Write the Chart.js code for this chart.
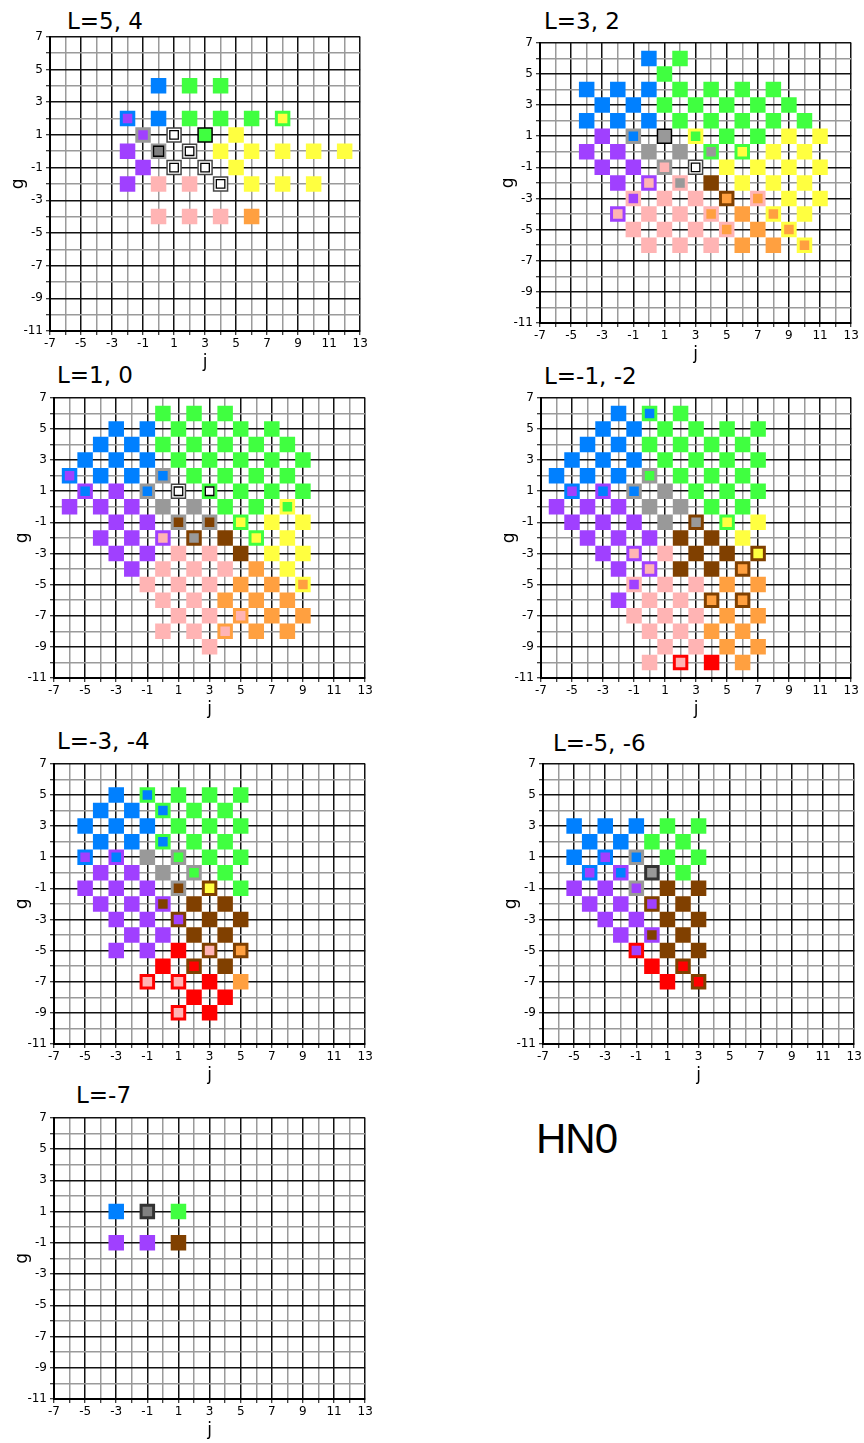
<!DOCTYPE html>
<html><head><meta charset="utf-8">
<script src="https://cdn.jsdelivr.net/npm/chart.js@4.4.1/dist/chart.umd.min.js"></script>
<style>
html,body{margin:0;padding:0;background:#fff;overflow:hidden}
body{width:864px;height:1443px;position:relative}
canvas{position:absolute}
.t{position:absolute;font-family:"DejaVu Sans";font-size:23px;line-height:23px;color:#000;white-space:pre}
.hn{position:absolute;font-family:"Liberation Sans";font-size:42px;line-height:42px;letter-spacing:-1px;color:#000}
</style></head><body>
<div class="t" style="left:67px;top:10px">L=5, 4</div>
<div class="t" style="left:544px;top:10px">L=3, 2</div>
<div class="t" style="left:57px;top:364px">L=1, 0</div>
<div class="t" style="left:544px;top:365px">L=-1, -2</div>
<div class="t" style="left:57px;top:730px">L=-3, -4</div>
<div class="t" style="left:553px;top:732px">L=-5, -6</div>
<div class="t" style="left:76px;top:1084px">L=-7</div>
<div class="hn" style="left:536px;top:1118px">HN0</div>
<canvas id="c1"></canvas><canvas id="c2"></canvas><canvas id="c3"></canvas><canvas id="c4"></canvas>
<canvas id="c5"></canvas><canvas id="c6"></canvas><canvas id="c7"></canvas>
<script>
// Tick labels
const J_LABELS = [-7,-5,-3,-1,1,3,5,7,9,11,13];
const G_LABELS = [-11,-9,-7,-5,-3,-1,1,3,5,7];

// Points: [j, g, fill, border]
const L54 = [
 [0,4,'B'],[2,4,'G'],[4,4,'G'],
 [-2,2,'P','B'],[0,2,'B'],[2,2,'G'],[4,2,'G'],[6,2,'G'],[8,2,'Y','G'],
 [-1,1,'P','A'],[1,1,'W','X'],[3,1,'G','k'],[5,1,'Y'],
 [-2,0,'P'],[0,0,'D','Q'],[2,0,'W','X'],[4,0,'Y'],[6,0,'Y'],[8,0,'Y'],[10,0,'Y'],[12,0,'Y'],
 [-1,-1,'P'],[1,-1,'W','X'],[3,-1,'W','X'],[5,-1,'Y'],
 [-2,-2,'P'],[0,-2,'K'],[2,-2,'K'],[4,-2,'W','X'],[6,-2,'Y'],[8,-2,'Y'],[10,-2,'Y'],
 [0,-4,'K'],[2,-4,'K'],[4,-4,'K'],[6,-4,'O']
];
const L32 = [
 [0,6,'B'],[2,6,'G'],
 [1,5,'G'],
 [-4,4,'B'],[-2,4,'B'],[0,4,'B'],[2,4,'G'],[4,4,'G'],[6,4,'G'],[8,4,'G'],
 [-3,3,'B'],[-1,3,'B'],[1,3,'G'],[3,3,'G'],[5,3,'G'],[7,3,'G'],[9,3,'G'],
 [-4,2,'B'],[-2,2,'B'],[0,2,'B'],[2,2,'G'],[4,2,'G'],[6,2,'G'],[8,2,'G'],[10,2,'G'],
 [-3,1,'P'],[-1,1,'B','A'],[1,1,'A','k'],[3,1,'G','Y'],[5,1,'G'],[7,1,'G'],[9,1,'Y'],[11,1,'Y'],
 [-4,0,'P'],[-2,0,'P'],[0,0,'A'],[2,0,'A'],[4,0,'A','G'],[6,0,'Y','G'],[8,0,'Y'],[10,0,'Y'],
 [-3,-1,'P'],[-1,-1,'P'],[1,-1,'K','A'],[3,-1,'W','X'],[5,-1,'Y'],[7,-1,'Y'],[9,-1,'Y'],[11,-1,'Y'],
 [-2,-2,'P'],[0,-2,'K','P'],[2,-2,'A','K'],[4,-2,'N'],[6,-2,'Y'],[8,-2,'Y'],[10,-2,'Y'],
 [-1,-3,'P','K'],[1,-3,'K'],[3,-3,'K'],[5,-3,'O','N'],[7,-3,'O','K'],[9,-3,'Y'],[11,-3,'Y'],
 [-2,-4,'K','P'],[0,-4,'K'],[2,-4,'K'],[4,-4,'O','K'],[6,-4,'O'],[8,-4,'O','Y'],[10,-4,'Y'],
 [-1,-5,'K'],[1,-5,'K'],[3,-5,'K'],[5,-5,'O','K'],[7,-5,'O'],[9,-5,'O','Y'],
 [0,-6,'K'],[2,-6,'K'],[4,-6,'K'],[6,-6,'O'],[8,-6,'O'],[10,-6,'O','Y']
];
const L10 = [
 [0,6,'G'],[2,6,'G'],[4,6,'G'],
 [-3,5,'B'],[-1,5,'B'],[1,5,'G'],[3,5,'G'],[5,5,'G'],[7,5,'G'],
 [-4,4,'B'],[-2,4,'B'],[0,4,'G'],[2,4,'G'],[4,4,'G'],[6,4,'G'],[8,4,'G'],
 [-5,3,'B'],[-3,3,'B'],[-1,3,'B'],[1,3,'G'],[3,3,'G'],[5,3,'G'],[7,3,'G'],[9,3,'G'],
 [-6,2,'P','B'],[-4,2,'B'],[-2,2,'B'],[0,2,'B','A'],[2,2,'G'],[4,2,'G'],[6,2,'G'],[8,2,'G'],
 [-5,1,'B','P'],[-3,1,'P'],[-1,1,'B','A'],[1,1,'W','X'],[3,1,'W','G'],[5,1,'G'],[7,1,'G'],[9,1,'G'],
 [-6,0,'P'],[-4,0,'P'],[-2,0,'P'],[0,0,'A'],[2,0,'A'],[4,0,'G'],[6,0,'G'],[8,0,'G','Y'],
 [-3,-1,'P'],[-1,-1,'P'],[1,-1,'N','A'],[3,-1,'N','A'],[5,-1,'Y','G'],[7,-1,'Y'],[9,-1,'Y'],
 [-4,-2,'P'],[-2,-2,'P'],[0,-2,'K','P'],[2,-2,'A','N'],[4,-2,'N'],[6,-2,'Y','G'],[8,-2,'Y'],
 [-3,-3,'P'],[-1,-3,'P'],[1,-3,'K'],[3,-3,'K'],[5,-3,'N'],[7,-3,'Y'],[9,-3,'Y'],
 [-2,-4,'P'],[0,-4,'K'],[2,-4,'K'],[4,-4,'K'],[6,-4,'O'],[8,-4,'Y'],
 [-1,-5,'K'],[1,-5,'K'],[3,-5,'K'],[5,-5,'O'],[7,-5,'O'],[9,-5,'O','Y'],
 [0,-6,'K'],[2,-6,'K'],[4,-6,'O'],[6,-6,'O'],[8,-6,'O'],
 [1,-7,'K'],[3,-7,'K'],[5,-7,'K','O'],[7,-7,'O'],[9,-7,'O'],
 [0,-8,'K'],[2,-8,'K'],[4,-8,'K','O'],[6,-8,'O'],[8,-8,'O'],
 [3,-9,'K']
];
const Lm12 = [
 [-2,6,'B'],[0,6,'B','G'],[2,6,'G'],
 [-3,5,'B'],[-1,5,'B'],[1,5,'G'],[3,5,'G'],[5,5,'G'],[7,5,'G'],
 [-4,4,'B'],[-2,4,'B'],[0,4,'G'],[2,4,'G'],[4,4,'G'],[6,4,'G'],
 [-5,3,'B'],[-3,3,'B'],[-1,3,'B'],[1,3,'G'],[3,3,'G'],[5,3,'G'],[7,3,'G'],
 [-6,2,'B'],[-4,2,'B'],[-2,2,'B'],[0,2,'G','A'],[2,2,'G'],[4,2,'G'],[6,2,'G'],
 [-5,1,'P','B'],[-3,1,'B','P'],[-1,1,'B','A'],[1,1,'A'],[3,1,'G'],[5,1,'G'],[7,1,'G'],
 [-6,0,'P'],[-4,0,'P'],[-2,0,'P'],[0,0,'A'],[2,0,'A'],[4,0,'G'],[6,0,'G'],
 [-5,-1,'P'],[-3,-1,'P'],[-1,-1,'P'],[1,-1,'A'],[3,-1,'A','N'],[5,-1,'Y','G'],[7,-1,'Y'],
 [-4,-2,'P'],[-2,-2,'P'],[0,-2,'P'],[2,-2,'N'],[4,-2,'N'],[6,-2,'Y'],
 [-3,-3,'P'],[-1,-3,'K','P'],[1,-3,'K'],[3,-3,'N'],[5,-3,'N'],[7,-3,'Y','N'],
 [-2,-4,'P'],[0,-4,'K','P'],[2,-4,'N'],[4,-4,'N'],[6,-4,'O','N'],
 [-1,-5,'P','K'],[1,-5,'K'],[3,-5,'K'],[5,-5,'O'],[7,-5,'O'],
 [-2,-6,'P'],[0,-6,'K'],[2,-6,'K'],[4,-6,'O','N'],[6,-6,'O','N'],
 [-1,-7,'K'],[1,-7,'K'],[3,-7,'K'],[5,-7,'O'],[7,-7,'O'],
 [0,-8,'K'],[2,-8,'K'],[4,-8,'O'],[6,-8,'O'],
 [1,-9,'K'],[3,-9,'K'],[5,-9,'O'],[7,-9,'O'],
 [0,-10,'K'],[2,-10,'K','R'],[4,-10,'R'],[6,-10,'O']
];
const Lm34 = [
 [-3,5,'B'],[-1,5,'B','G'],[1,5,'G'],[3,5,'G'],[5,5,'G'],
 [-4,4,'B'],[-2,4,'B'],[0,4,'B','G'],[2,4,'G'],[4,4,'G'],
 [-5,3,'B'],[-3,3,'B'],[-1,3,'B'],[1,3,'G'],[3,3,'G'],[5,3,'G'],
 [-4,2,'B'],[-2,2,'B'],[0,2,'B','G'],[2,2,'G'],[4,2,'G'],
 [-5,1,'P','B'],[-3,1,'B','P'],[-1,1,'A'],[1,1,'G','A'],[3,1,'G'],[5,1,'G'],
 [-4,0,'P'],[-2,0,'P'],[0,0,'A'],[2,0,'G','A'],[4,0,'G'],
 [-5,-1,'P'],[-3,-1,'P'],[-1,-1,'P'],[1,-1,'N','A'],[3,-1,'Y','N'],[5,-1,'G'],
 [-4,-2,'P'],[-2,-2,'P'],[0,-2,'N','P'],[2,-2,'N'],[4,-2,'N'],
 [-3,-3,'P'],[-1,-3,'P'],[1,-3,'P','N'],[3,-3,'N'],[5,-3,'N'],
 [-2,-4,'P'],[0,-4,'P'],[2,-4,'N'],[4,-4,'N'],
 [-3,-5,'P'],[-1,-5,'P'],[1,-5,'R'],[3,-5,'K','N'],[5,-5,'O','N'],
 [0,-6,'R'],[2,-6,'R','N'],[4,-6,'N'],
 [-1,-7,'K','R'],[1,-7,'K','R'],[3,-7,'R'],[5,-7,'O'],
 [2,-8,'R'],[4,-8,'R'],
 [1,-9,'K','R'],[3,-9,'R']
];
const Lm56 = [
 [-5,3,'B'],[-3,3,'B'],[-1,3,'B'],[1,3,'G'],[3,3,'G'],
 [-4,2,'B'],[-2,2,'B'],[0,2,'G'],[2,2,'G'],
 [-5,1,'B'],[-3,1,'P','B'],[-1,1,'B','A'],[1,1,'G'],[3,1,'G'],
 [-4,0,'P','B'],[-2,0,'B','P'],[0,0,'A','Z'],[2,0,'G'],
 [-5,-1,'P'],[-3,-1,'P'],[-1,-1,'P','A'],[1,-1,'N'],[3,-1,'N'],
 [-4,-2,'P'],[-2,-2,'P'],[0,-2,'P','N'],[2,-2,'N'],
 [-3,-3,'P'],[-1,-3,'P'],[1,-3,'N'],[3,-3,'N'],
 [-2,-4,'P'],[0,-4,'N','P'],[2,-4,'N'],
 [-1,-5,'P','R'],[1,-5,'N'],[3,-5,'N'],
 [0,-6,'R'],[2,-6,'R','N'],
 [1,-7,'R'],[3,-7,'R','N']
];
const Lm7 = [
 [-3,1,'B'],[-1,1,'D','Z'],[1,1,'G'],
 [-3,-1,'P'],[-1,-1,'P'],[1,-1,'N']
];

const FILL = {B:'#0080FF',G:'#40FF40',Y:'#FFFF40',P:'#A040FF',K:'#FFB4B4',O:'#FFA040',
  A:'#999999',D:'#808080',N:'#804000',R:'#FF0000',W:'#FFFFFF'};
const EDGE = Object.assign({}, FILL, {X:'#444444',k:'#000000',Q:'#9a9a9a',Z:'#333333'});
const EDGE_W = {X:1.5,k:1.5};

function makePanel(id, pts, L, T, R, B) {
  const cv = document.getElementById(id);
  const padL = 50, padT = 10, padR = 10, axH = 42;
  const W = R - L + padL + padR, H = B - T + padT + axH;
  cv.width = W; cv.height = H;
  cv.style.left = (L - padL) + 'px'; cv.style.top = (T - padT) + 'px';
  cv.style.width = W + 'px'; cv.style.height = H + 'px';
  const S = 15.5;
  const bw = p => p[3] ? (EDGE_W[p[3]] || 3) : 0;
  const base = {
    order: 2,
    data: pts.map(p => ({x: p[0], y: p[1]})),
    pointStyle: 'rect',
    pointRadius: pts.map(p => (S - bw(p)) / Math.SQRT2),
    pointBackgroundColor: pts.map(p => FILL[p[2]]),
    pointBorderColor: pts.map(p => p[3] ? EDGE[p[3]] : 'rgba(0,0,0,0)'),
    pointBorderWidth: pts.map(bw)
  };
  const innerPts = pts.filter(p => p[2] === 'W' || p[3] === 'Q');
  const inner = {
    order: 1,
    data: innerPts.map(p => ({x: p[0], y: p[1]})),
    pointStyle: 'rect',
    pointRadius: innerPts.map(p => (p[3] === 'Q' ? 10 : 8.5) / Math.SQRT2),
    pointBackgroundColor: 'rgba(0,0,0,0)',
    pointBorderColor: '#000',
    pointBorderWidth: 1.3
  };
  const gridColor = c => (Math.abs(c.tick.value % 2) === 1) ? '#111' : '#9a9a9a';
  const font = {family: 'DejaVu Sans', size: 12};
  new Chart(cv, {
    type: 'scatter',
    data: {datasets: [inner, base]},
    options: {
      responsive: false, animation: false, events: [],
      layout: {padding: {left: 0, top: padT, right: padR, bottom: 0}},
      plugins: {legend: {display: false}, tooltip: {enabled: false}},
      scales: {
        x: {
          type: 'linear', min: -7, max: 13,
          ticks: {stepSize: 1, autoSkip: false, maxRotation: 0, padding: 2, color: '#000', font,
            callback: v => J_LABELS.includes(v) ? String(v) : ''},
          grid: {color: gridColor, lineWidth: 1.5, tickLength: 4, tickColor: '#000', tickWidth: 1},
          border: {display: true, color: '#000', width: 2},
          title: {display: true, text: 'j', color: '#000', font: {family: 'DejaVu Sans', size: 17}, padding: {top: 0, bottom: 0}},
          afterFit: s => { s.height = axH; }
        },
        y: {
          type: 'linear', min: -11, max: 7,
          ticks: {stepSize: 1, autoSkip: false, padding: 3, color: '#000', font,
            callback: v => G_LABELS.includes(v) ? String(v) : ''},
          grid: {color: gridColor, lineWidth: 1.5, tickLength: 4, tickColor: '#000', tickWidth: 1},
          border: {display: true, color: '#000', width: 2},
          title: {display: true, text: 'g', color: '#000', font: {family: 'DejaVu Sans', size: 17}, padding: {top: 8, bottom: 0}},
          afterFit: s => { s.width = padL; }
        }
      }
    }
  });
}

makePanel('c1', L54, 50, 35, 362, 331);
makePanel('c2', L32, 540, 41, 853, 323);
makePanel('c3', L10, 54, 396, 367, 678);
makePanel('c4', Lm12, 541, 396, 853, 678);
makePanel('c5', Lm34, 54, 762, 367, 1044);
makePanel('c6', Lm56, 543, 762, 856, 1044);
makePanel('c7', Lm7, 54, 1116, 367, 1399);
</script>
</body></html>
